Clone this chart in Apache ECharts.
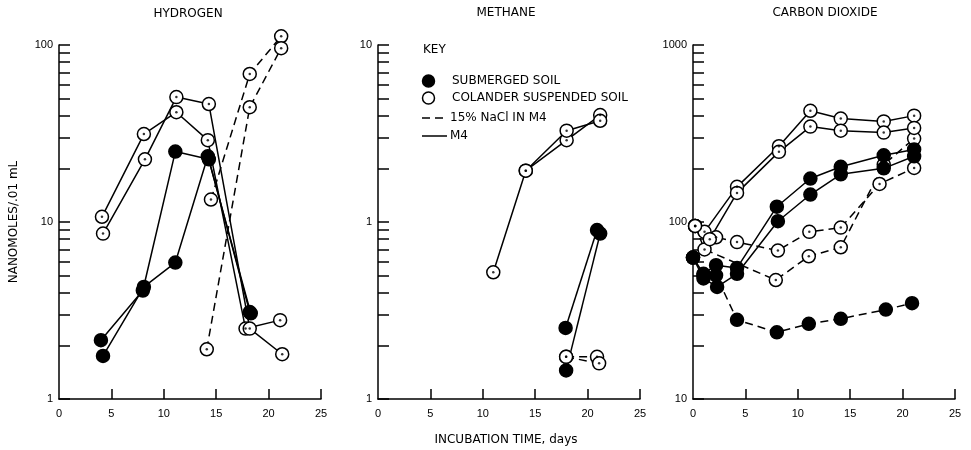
<!DOCTYPE html>
<html>
<head>
<meta charset="utf-8">
<script src="https://cdn.jsdelivr.net/npm/echarts@6/dist/echarts.min.js"></script>
<style>
  html, body { margin: 0; padding: 0; background: #fff; }
  #main { width: 971px; height: 450px; }
</style>
</head>
<body>
<div id="main"></div>
<script>
// tick positions
var xLabels = [0, 5, 10, 15, 20, 25];
var xTicks = [5, 10, 15, 20, 25];
var h2Ticks = [1, 2, 3, 4, 5, 6, 7, 8, 9, 10, 20, 30, 40, 50, 60, 70, 80, 90, 100];
var h2Labels = [1, 10, 100];
var ch4Ticks = [0.1, 0.2, 0.3, 0.4, 0.5, 0.6, 0.7, 0.8, 0.9, 1, 2, 3, 4, 5, 6, 7, 8, 9, 10];
var ch4Labels = [0.1, 1, 10];
var ch4LabelText = ['1', '1', '10'];
var co2Ticks = [10, 20, 30, 40, 50, 60, 70, 80, 90, 100, 200, 300, 400, 500, 600, 700, 800, 900, 1000];
var co2Labels = [10, 100, 1000];

// HYDROGEN  [day, nmol]
var h2OpenM4a = [[4.1, 10.7], [8.1, 31.4], [11.2, 41.7], [14.2, 29], [17.8, 2.5], [21.1, 2.79]];
var h2OpenM4b = [[4.2, 8.6], [8.2, 22.6], [11.2, 50.8], [14.3, 46.4], [18.2, 2.5], [21.3, 1.79]];
var h2SubM4a = [[4.0, 2.15], [8.0, 4.1], [11.1, 25], [14.3, 22.6], [18.2, 3.1]];
var h2SubM4b = [[4.2, 1.75], [8.1, 4.3], [11.1, 5.9], [14.2, 23.5], [18.3, 3.05]];
var h2OpenNaClA = [[14.5, 13.4], [18.2, 68.6], [21.2, 112]];
var h2OpenNaClB = [[14.1, 1.91], [18.2, 44.5], [21.2, 96]];

// METHANE
var ch4OpenM4a = [[11.0, 0.52], [14.1, 1.95], [18.0, 2.9], [21.2, 4.02]];
var ch4OpenM4b = [[14.1, 1.95], [18.0, 3.28], [21.2, 3.73]];
var ch4SubM4a = [[17.9, 0.252], [20.9, 0.9]];
var ch4SubM4b = [[17.95, 0.145], [21.2, 0.86]];
var ch4OpenNaClA = [[17.95, 0.173], [20.9, 0.173]];
var ch4OpenNaClB = [[17.95, 0.173], [21.1, 0.159]];

// CARBON DIOXIDE
var co2OpenM4a = [[0.2, 95], [1.1, 88], [4.2, 158], [8.2, 268], [11.2, 425], [14.1, 384], [18.2, 370], [21.1, 399]];
var co2OpenM4b = [[0.2, 95], [1.6, 80], [4.2, 146], [8.2, 249], [11.2, 346], [14.1, 328], [18.2, 320], [21.1, 340]];
var co2OpenNaClA = [[0.2, 95], [2.2, 82], [4.2, 77], [8.1, 69], [11.1, 88], [14.1, 93], [17.8, 164], [21.1, 202]];
var co2OpenNaClB = [[0.2, 95], [1.1, 70], [7.9, 47], [11.05, 64], [14.1, 72], [18.2, 211], [21.1, 296]];
var co2SubM4a = [[0, 63], [1.0, 51], [2.2, 57], [4.2, 55], [8.0, 122], [11.2, 176], [14.1, 205], [18.2, 238], [21.1, 257]];
var co2SubM4b = [[0, 63], [1.0, 48], [2.3, 43], [4.2, 51], [8.1, 101], [11.2, 143], [14.1, 186], [18.2, 201], [21.1, 235]];
var co2SubNaCl = [[0, 63], [1.0, 50], [2.2, 50], [4.2, 28], [8.0, 23.8], [11.05, 26.6], [14.1, 28.4], [18.4, 32], [20.9, 34.8]];

var font = 'DejaVu Sans';
var numFont = 'Liberation Sans';

var series = [];
function add(data, filled, dashed, ax) {
    series.push({
        type: 'line',
        xAxisIndex: ax,
        yAxisIndex: ax,
        data: data,
        clip: false,
        symbol: 'circle',
        symbolSize: 13,
        animation: false,
        silent: true,
        itemStyle: { color: filled ? '#000' : '#fff', borderColor: '#000', borderWidth: 1.5 },
        lineStyle: { color: '#000', width: 1.5, type: dashed ? [8, 5] : 'solid' },
        z: 2
    });
    if (!filled) {
        // little dot in the middle of the open circles
        series.push({
            type: 'scatter',
            xAxisIndex: ax,
            yAxisIndex: ax,
            data: data,
            clip: false,
            symbol: 'circle',
            symbolSize: 2.5,
            animation: false,
            silent: true,
            itemStyle: { color: '#000' },
            z: 4
        });
    }
}

add(h2OpenM4a, false, false, 0);
add(h2OpenM4b, false, false, 0);
add(h2SubM4a, true, false, 0);
add(h2SubM4b, true, false, 0);
add(h2OpenNaClA, false, true, 0);
add(h2OpenNaClB, false, true, 0);

add(ch4OpenM4a, false, false, 1);
add(ch4OpenM4b, false, false, 1);
add(ch4SubM4a, true, false, 1);
add(ch4SubM4b, true, false, 1);
add(ch4OpenNaClA, false, true, 1);
add(ch4OpenNaClB, false, true, 1);

add(co2SubNaCl, true, true, 2);
add(co2OpenNaClA, false, true, 2);
add(co2OpenNaClB, false, true, 2);
add(co2SubM4a, true, false, 2);
add(co2SubM4b, true, false, 2);
add(co2OpenM4a, false, false, 2);
add(co2OpenM4b, false, false, 2);

var lefts = [59, 378, 693];
var grids = lefts.map(function (l) {
    return { left: l, width: 262, top: 45, height: 354, outerBoundsMode: 'none' };
});

var xAxes = lefts.map(function (l, i) {
    return {
        type: 'value',
        gridIndex: i,
        min: 0,
        max: 25,
        interval: 5,
        splitLine: { show: false },
        axisLine: { lineStyle: { color: '#000', width: 1.5 } },
        axisTick: { inside: true, length: 10, customValues: xTicks, lineStyle: { color: '#000', width: 1.5 } },
        axisLabel: { customValues: xLabels, color: '#000', fontSize: 11, fontFamily: numFont, margin: 9 }
    };
});

function yAxis(i, min, max, ticks, labels, fmt) {
    return {
        type: 'log',
        logBase: 10,
        gridIndex: i,
        min: min,
        max: max,
        splitLine: { show: false },
        axisLine: { show: true, lineStyle: { color: '#000', width: 1.5 } },
        axisTick: { show: true, inside: true, length: 11, customValues: ticks, lineStyle: { color: '#000', width: 1.5 } },
        axisLabel: { customValues: labels, color: '#000', fontSize: 11, fontFamily: numFont, margin: 6, formatter: fmt }
    };
}

function plain(v) { return String(v); }

var yAxes = [
    yAxis(0, 1, 100, h2Ticks, h2Labels, plain),
    yAxis(1, 0.1, 10, ch4Ticks, ch4Labels, function (v) {
        var k = ch4Labels.indexOf(v);
        return k >= 0 ? ch4LabelText[k] : String(v);
    }),
    yAxis(2, 10, 1000, co2Ticks, co2Labels, plain)
];
yAxes[0].name = 'NANOMOLES/.01 mL';
yAxes[0].nameLocation = 'middle';
yAxes[0].nameGap = 39;
yAxes[0].nameTextStyle = { color: '#000', fontSize: 12, fontFamily: font };

function txt(x, y, s, align) {
    return {
        type: 'text', x: x, y: y, silent: true,
        style: { text: s, fill: '#000', font: '12px "' + font + '"', textAlign: align || 'left', textVerticalAlign: 'middle' }
    };
}

var graphics = [
    txt(188, 14, 'HYDROGEN', 'center'),
    txt(506, 13, 'METHANE', 'center'),
    txt(825, 13, 'CARBON DIOXIDE', 'center'),
    txt(506, 440, 'INCUBATION TIME, days', 'center'),
    // key
    txt(423, 50, 'KEY', 'left'),
    { type: 'circle', silent: true, shape: { cx: 428.5, cy: 81, r: 6 }, style: { fill: '#000', stroke: '#000', lineWidth: 1.5 } },
    txt(452, 81, 'SUBMERGED SOIL', 'left'),
    { type: 'circle', silent: true, shape: { cx: 428.5, cy: 98, r: 6 }, style: { fill: '#fff', stroke: '#000', lineWidth: 1.5 } },
    txt(452, 98, 'COLANDER SUSPENDED SOIL', 'left'),
    { type: 'line', silent: true, shape: { x1: 422, y1: 118, x2: 447, y2: 118 }, style: { stroke: '#000', lineWidth: 1.5, lineDash: [8, 5] } },
    txt(450, 118, '15% NaCl IN M4', 'left'),
    { type: 'line', silent: true, shape: { x1: 422, y1: 136, x2: 447, y2: 136 }, style: { stroke: '#000', lineWidth: 1.5 } },
    txt(450, 136, 'M4', 'left')
];

var chart = echarts.init(document.getElementById('main'));
chart.setOption({
    backgroundColor: '#fff',
    animation: false,
    grid: grids,
    xAxis: xAxes,
    yAxis: yAxes,
    graphic: graphics,
    series: series
});
</script>
</body>
</html>
